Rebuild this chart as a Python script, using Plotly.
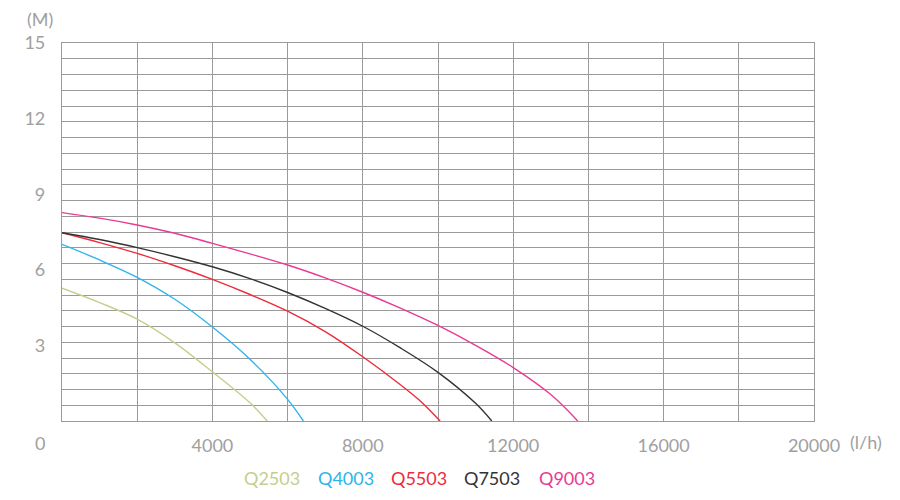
import plotly.graph_objects as go

# Flow (l/h) and head (M)
q2503_x = [0, 1000, 2000, 3000, 4000, 5000, 5460]
q2503_y = [5.27, 4.70, 4.04, 3.10, 1.95, 0.72, 0.0]

q4003_x = [0, 1000, 2000, 3000, 4000, 5000, 6000, 6420]
q4003_y = [7.01, 6.39, 5.70, 4.83, 3.73, 2.45, 0.86, 0.0]

q5503_x = [0, 1000, 2000, 3000, 4000, 5000, 6000, 7000, 8000, 9000, 9500, 10055]
q5503_y = [7.47, 7.08, 6.65, 6.16, 5.62, 5.02, 4.36, 3.55, 2.55, 1.44, 0.83, 0.0]

q7503_x = [0, 1000, 2000, 3000, 4000, 5000, 6000, 7000, 8000, 9000, 10000, 11000, 11430]
q7503_y = [7.47, 7.20, 6.88, 6.52, 6.12, 5.65, 5.10, 4.47, 3.76, 2.90, 1.93, 0.70, 0.0]

q9003_x = [0, 1000, 2000, 3000, 4000, 5000, 6000, 7000, 8000, 9000, 10000, 11000, 12000, 13000, 13717]
q9003_y = [8.27, 8.05, 7.78, 7.45, 7.05, 6.63, 6.19, 5.68, 5.11, 4.48, 3.79, 3.00, 2.12, 1.05, 0.0]

series_names = ["Q2503", "Q4003", "Q5503", "Q7503", "Q9003"]
series_colors = ["#c3cf8e", "#2eb4ea", "#ee2a3a", "#333333", "#ea3a93"]
series_x = [q2503_x, q4003_x, q5503_x, q7503_x, q9003_x]
series_y = [q2503_y, q4003_y, q5503_y, q7503_y, q9003_y]

x_ticks = [4000, 8000, 12000, 16000, 20000]
y_ticks = [3, 6, 9, 12, 15]

FONT = "Lato, 'Open Sans', sans-serif"
FS = 18
GRID = "#9a9a9a"
LABEL = "#a0a0a0"

fig = go.Figure()
for name, color, xs, ys in zip(series_names, series_colors, series_x, series_y):
    fig.add_trace(go.Scatter(
        x=xs, y=ys, mode="lines", name=name,
        line=dict(color=color, width=1.4, shape="spline", smoothing=1.0),
        showlegend=False, hoverinfo="x+y+name",
    ))

# the page body has an 8px margin, so the figure is 892x492 and the
# margins are reduced by 8px on the left and top
fig.update_layout(
    width=892, height=492,
    margin=dict(l=54, r=86, t=35, b=79, autoexpand=False),
    paper_bgcolor="white", plot_bgcolor="white",
    font=dict(family=FONT, color=LABEL, size=FS),
    xaxis=dict(
        range=[0, 20000], tickvals=x_ticks,
        ticktext=[str(v) for v in x_ticks],
        showgrid=True, gridcolor=GRID, gridwidth=1.2,
        minor=dict(dtick=2000, tick0=0, showgrid=True, gridcolor=GRID, gridwidth=1.2),
        showline=True, linecolor=GRID, linewidth=1.2, mirror=True,
        zeroline=False, ticks="", ticklabelstandoff=8, automargin=False,
        tickfont=dict(family=FONT, color=LABEL, size=FS),
    ),
    yaxis=dict(
        range=[0, 15], tickvals=y_ticks,
        ticktext=[str(v) for v in y_ticks],
        showgrid=False,
        minor=dict(dtick=0.625, tick0=0, showgrid=True, gridcolor=GRID, gridwidth=1.2),
        showline=True, linecolor=GRID, linewidth=1.2, mirror=True,
        zeroline=False, ticks="", ticklabelstandoff=12, automargin=False,
        tickfont=dict(family=FONT, color=LABEL, size=FS),
    ),
)

annotations = [
    dict(text="0", xref="paper", yref="paper", x=0, y=0, xshift=-22, yshift=-22,
         showarrow=False, xanchor="center", yanchor="middle",
         font=dict(family=FONT, color=LABEL, size=FS)),
    dict(text="(M)", xref="paper", yref="paper", x=0, y=1, xshift=-22, yshift=24,
         showarrow=False, xanchor="center", yanchor="middle",
         font=dict(family=FONT, color=LABEL, size=FS)),
    dict(text="(l/h)", xref="paper", yref="paper", x=1, y=0, xshift=52, yshift=-21,
         showarrow=False, xanchor="center", yanchor="middle",
         font=dict(family=FONT, color=LABEL, size=FS)),
]
legend_px = [272, 346, 419, 492, 567]
for name, color, px in zip(series_names, series_colors, legend_px):
    annotations.append(dict(
        text=name, xref="paper", yref="paper", x=(px - 62) / 752, y=0, yshift=-57,
        showarrow=False, xanchor="center", yanchor="middle",
        font=dict(family=FONT, color=color, size=FS)))
fig.update_layout(annotations=annotations)

fig.write_html("out.html")
